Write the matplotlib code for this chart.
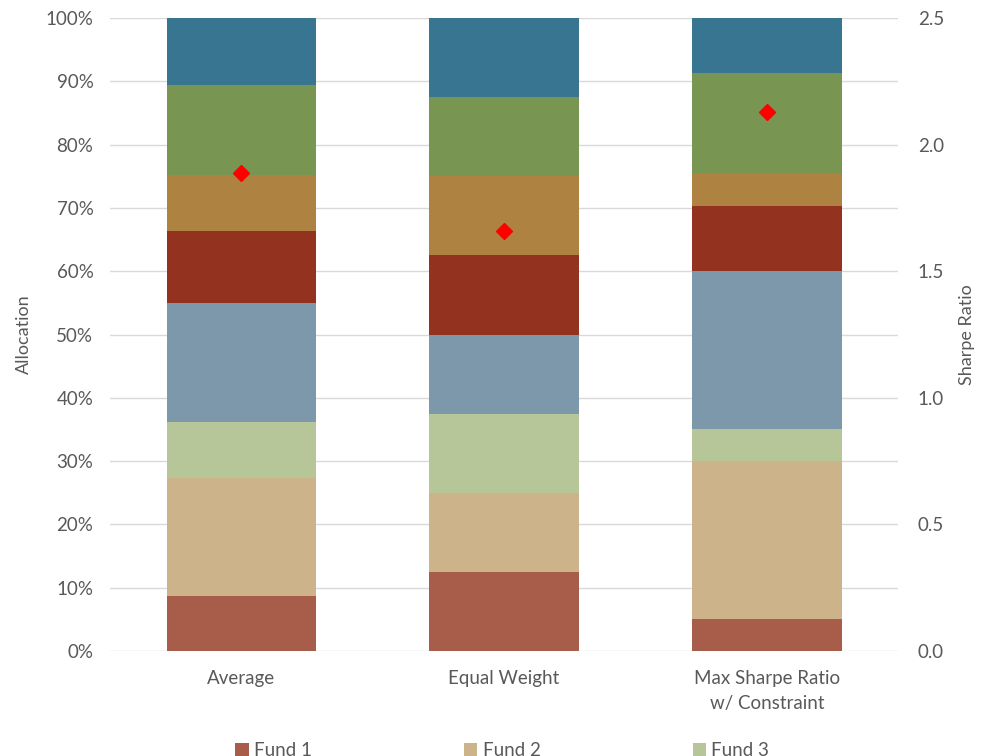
import numpy as np
import matplotlib.pyplot as plt
from matplotlib.ticker import PercentFormatter

plt.rcParams['font.family'] = ['Lato', 'DejaVu Sans']

# Portfolio allocations per strategy (%)
strategies = ['Average', 'Equal Weight', 'Max Sharpe Ratio\nw/ Constraint']
funds = ['Fund 1', 'Fund 2', 'Fund 3', 'Fund 4', 'Fund 5', 'Fund 6', 'Fund 7', 'Fund 8']
avg_alloc = [8.7, 18.7, 8.8, 18.8, 11.4, 8.8, 14.3, 10.5]
equal_alloc = [12.5, 12.5, 12.5, 12.5, 12.5, 12.5, 12.5, 12.5]
maxsharpe_alloc = [5.0, 25.0, 5.0, 25.0, 10.3, 5.0, 16.1, 8.6]
sharpe = [1.89, 1.66, 2.13]

colors = ['#A85D4B', '#CDB38A', '#B6C699', '#7E98AB', '#93331F', '#AE8241', '#789552', '#387591']

alloc = np.array([avg_alloc, equal_alloc, maxsharpe_alloc]) / 100.0
x = np.arange(len(strategies))
grey = '#595959'

fig, ax = plt.subplots(figsize=(9.87, 7.56), dpi=100)
fig.subplots_adjust(left=0.1115, right=0.91, bottom=0.139, top=0.976)

bottom = np.zeros(len(strategies))
bars = []
for i, fund in enumerate(funds):
    b = ax.bar(x, alloc[:, i], bottom=bottom, width=0.57, color=colors[i],
               label=fund, zorder=2)
    bars.append(b)
    bottom += alloc[:, i]

ax.set_xlim(-0.5, 2.5)
ax.set_ylim(0, 1)
ax.set_yticks(np.arange(0, 1.01, 0.1))
ax.yaxis.set_major_formatter(PercentFormatter(1.0, decimals=0))
ax.set_xticks(x)
ax.set_xticklabels(strategies, linespacing=1.55)
ax.grid(axis='y', color='#D9D9D9', linewidth=1, zorder=0)
ax.set_ylabel('Allocation', fontsize=13, color=grey, labelpad=10)
for s in ax.spines.values():
    s.set_visible(False)
ax.tick_params(axis='y', length=0, labelsize=13.5, labelcolor=grey, pad=12)
ax.tick_params(axis='x', length=0, labelsize=13.5, labelcolor=grey, pad=14)

ax2 = ax.twinx()
ax2.plot(x, sharpe, linestyle='none', marker='D', markersize=8,
         color='#FF0000', zorder=3)
ax2.set_ylim(0, 2.5)
ax2.set_yticks(np.arange(0, 2.51, 0.5))
ax2.yaxis.set_major_formatter(lambda v, p: f'{v:.1f}')
ax2.set_ylabel('Sharpe Ratio', fontsize=13, color=grey, labelpad=11)
for s in ax2.spines.values():
    s.set_visible(False)
ax2.tick_params(length=0, labelsize=13.5, labelcolor=grey, pad=14)

# legend fills column-wise, so reorder to get Fund 1-3 on the first row
ncol = 3
order = [0, 3, 6, 1, 4, 7, 2, 5]
fig.legend([bars[i] for i in order], [funds[i] for i in order],
           loc='upper center', bbox_to_anchor=(0.509, 0.041), ncol=ncol,
           frameon=False, fontsize=13.5, handlelength=0.7, handleheight=0.7,
           handletextpad=0.3, columnspacing=8.1, labelcolor=grey)

fig.savefig('out.png', dpi=100)
